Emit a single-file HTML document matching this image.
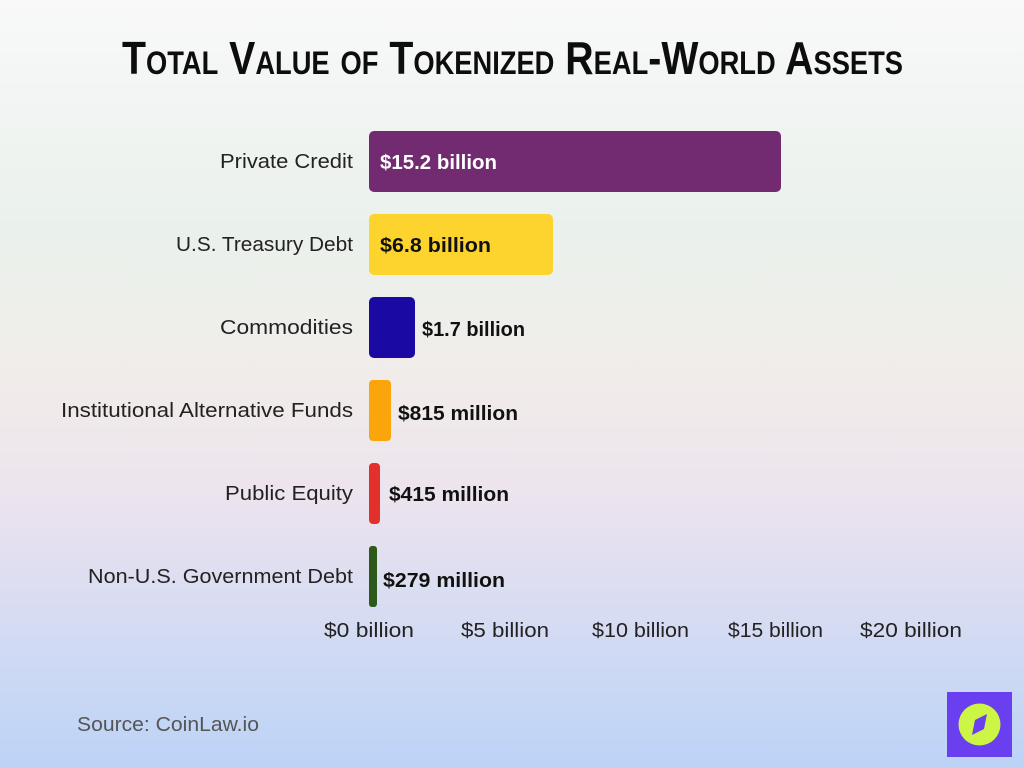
<!DOCTYPE html>
<html><head><meta charset="utf-8"><style>
html,body{margin:0;padding:0;width:1024px;height:768px;overflow:hidden}
body{background:linear-gradient(180deg,#f9f9fa 0%,#f1f4f2 15%,#eaf1ec 30%,#f1ece9 50%,#ece3ee 65%,#d4dbf3 82%,#bcd3f6 100%);font-family:"Liberation Sans",sans-serif}
</style></head><body>
<svg width="1024" height="768" xmlns="http://www.w3.org/2000/svg" style="position:absolute;left:0;top:0">
<text x="122" y="74" textLength="781" lengthAdjust="spacingAndGlyphs" font-family="Liberation Sans Narrow, Liberation Sans, sans-serif" font-weight="bold" font-size="46" style="font-variant:small-caps" fill="#0d0d0d">Total Value of Tokenized Real-World Assets</text>
<g font-size="20" fill="#222">
<text x="220" y="168" textLength="133" lengthAdjust="spacingAndGlyphs">Private Credit</text>
<text x="176" y="251" textLength="177" lengthAdjust="spacingAndGlyphs">U.S. Treasury Debt</text>
<text x="220" y="334" textLength="133" lengthAdjust="spacingAndGlyphs">Commodities</text>
<text x="61" y="417" textLength="292" lengthAdjust="spacingAndGlyphs">Institutional Alternative Funds</text>
<text x="225" y="500" textLength="128" lengthAdjust="spacingAndGlyphs">Public Equity</text>
<text x="88" y="583" textLength="265" lengthAdjust="spacingAndGlyphs">Non-U.S. Government Debt</text>
</g>
<rect x="369" y="131" width="412" height="61" rx="5" fill="#722a70"/>
<rect x="369" y="214" width="184" height="61" rx="5" fill="#fdd32e"/>
<rect x="369" y="297" width="46" height="61" rx="5" fill="#1a0aa3"/>
<rect x="369" y="380" width="22" height="61" rx="4" fill="#f9a50b"/>
<rect x="369" y="463" width="11" height="61" rx="4" fill="#e3302a"/>
<rect x="369" y="546" width="8" height="61" rx="3" fill="#2d5a1a"/>
<g font-size="20" font-weight="bold">
<text x="380" y="169" fill="#fff" textLength="117" lengthAdjust="spacingAndGlyphs">$15.2 billion</text>
<text x="380" y="252" fill="#111" textLength="111" lengthAdjust="spacingAndGlyphs">$6.8 billion</text>
<text x="422" y="336" fill="#111" textLength="103" lengthAdjust="spacingAndGlyphs">$1.7 billion</text>
<text x="398" y="420" fill="#111" textLength="120" lengthAdjust="spacingAndGlyphs">$815 million</text>
<text x="389" y="501" fill="#111" textLength="120" lengthAdjust="spacingAndGlyphs">$415 million</text>
<text x="383" y="587" fill="#111" textLength="122" lengthAdjust="spacingAndGlyphs">$279 million</text>
</g>
<g font-size="20" fill="#222">
<text x="324" y="637" textLength="90" lengthAdjust="spacingAndGlyphs">$0 billion</text>
<text x="461" y="637" textLength="88" lengthAdjust="spacingAndGlyphs">$5 billion</text>
<text x="592" y="637" textLength="97" lengthAdjust="spacingAndGlyphs">$10 billion</text>
<text x="728" y="637" textLength="95" lengthAdjust="spacingAndGlyphs">$15 billion</text>
<text x="860" y="637" textLength="102" lengthAdjust="spacingAndGlyphs">$20 billion</text>
</g>
<text x="77" y="731" font-size="20" fill="#555" textLength="182" lengthAdjust="spacingAndGlyphs">Source: CoinLaw.io</text>
<rect x="947" y="692" width="65" height="65" fill="#6a3ff0"/>
<circle cx="979.5" cy="724.5" r="21" fill="#cdf545"/>
<polygon points="987,714 984,729 972,735 975,720" fill="#6a3ff0"/>
</svg>
</body></html>
